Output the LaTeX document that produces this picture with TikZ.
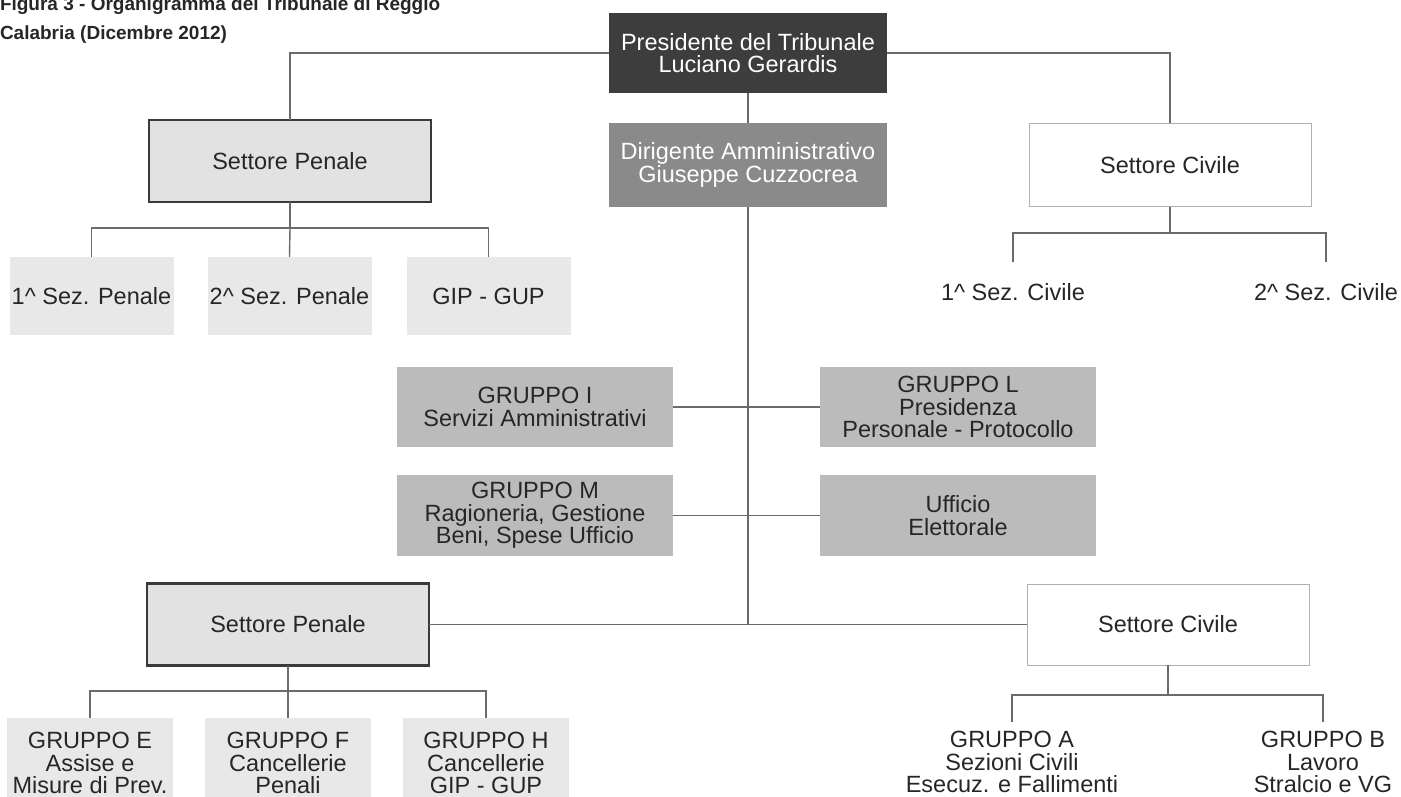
\documentclass[tikz,border=0pt]{standalone}
\usepackage{fontspec}
\setmainfont{Liberation Sans}
\usepackage{graphicx}
\definecolor{presfill}{HTML}{3D3D3D}
\definecolor{dirfill}{HTML}{8A8A8A}
\definecolor{grpfill}{HTML}{BBBBBB}
\definecolor{penfill}{HTML}{E2E2E2}
\definecolor{subfill}{HTML}{E8E8E8}
\definecolor{penborder}{HTML}{3A3A3A}
\definecolor{civborder}{HTML}{B0B0B0}
\definecolor{linec}{HTML}{6A6A6A}
\definecolor{txt}{HTML}{262626}
\begin{document}
\begin{tikzpicture}[x=1pt,y=-1pt,
  every node/.style={inner sep=0pt, outer sep=0pt, align=center, text=txt,
    font=\fontsize{23.5}{22.5}\selectfont},
  link/.style={draw=linec, line width=1.4pt},
  presbox/.style={fill=presfill, text=white, minimum width=278, minimum height=80},
  dirbox/.style={fill=dirfill, text=white, minimum width=278, minimum height=84},
  penbox/.style={fill=penfill, draw=penborder, line width=2.2pt, minimum width=282, minimum height=82},
  civbox/.style={fill=white, draw=civborder, line width=1pt, minimum width=282, minimum height=83},
  subbox/.style={fill=subfill, minimum width=164, minimum height=78},
  lowbox/.style={fill=subfill, minimum width=166, minimum height=90},
  grpbox/.style={fill=grpfill, minimum width=276, minimum height=80},
  plain/.style={minimum width=200},
  titletext/.style={anchor=base west, text=txt, font=\fontsize{19}{25}\selectfont\bfseries}
]
\useasboundingbox (0,0) rectangle (1401,797);

% title
\node[titletext] (t1) at (0,11) {Figura 3 - Organigramma del Tribunale di Reggio};
\node[titletext] (t2) at (0,40) {Calabria (Dicembre 2012)};

% top level
\node[presbox] (pres) at (748,53) {Presidente del Tribunale\\Luciano Gerardis};
\node[dirbox] (dir) at (748,165) {Dirigente Amministrativo\\Giuseppe Cuzzocrea};
\node[penbox] (sp1) at (290,161) {Settore Penale};
\node[civbox] (sc1) at (1170,165) {Settore Civile};

% level 3 (top)
\node[subbox] (p1) at (91.5,296) {1\textasciicircum{} Sez. Penale};
\node[subbox] (p2) at (289.5,296) {2\textasciicircum{} Sez. Penale};
\node[subbox] (p3) at (488.5,296) {GIP - GUP};
\node[plain, minimum height=60] (c1) at (1013,292) {1\textasciicircum{} Sez. Civile};
\node[plain, minimum height=60] (c2) at (1326,292) {2\textasciicircum{} Sez. Civile};

% middle groups
\node[grpbox] (gI) at (535,407) {GRUPPO I\\Servizi Amministrativi};
\node[grpbox] (gL) at (958,407) {GRUPPO L\\Presidenza\\Personale - Protocollo};
\node[grpbox, minimum height=81] (gM) at (535,515.5) {GRUPPO M\\Ragioneria, Gestione\\Beni, Spese Ufficio};
\node[grpbox, minimum height=81] (gU) at (958,515.5) {Ufficio\\Elettorale};

% bottom sectors
\node[penbox] (sp2) at (288,624.5) {Settore Penale};
\node[civbox, minimum height=81] (sc2) at (1168,624.5) {Settore Civile};

% bottom children
\node[lowbox] (ge) at (90,763) {GRUPPO E\\Assise e\\Misure di Prev.};
\node[lowbox] (gf) at (288,763) {GRUPPO F\\Cancellerie\\Penali};
\node[lowbox] (gh) at (486,763) {GRUPPO H\\Cancellerie\\GIP - GUP};
\node[plain, minimum height=80] (ga) at (1012,762) {GRUPPO A\\Sezioni Civili\\Esecuz. e Fallimenti};
\node[plain, minimum height=80] (gb) at (1323,762) {GRUPPO B\\Lavoro\\Stralcio e VG};

% bus points
\coordinate (b1) at (290,228);
\coordinate (b2) at (1170,233);
\coordinate (b3) at (288,691);
\coordinate (b4) at (1168,695);

% connectors
\draw[link] (pres.west) -| (sp1.north);
\draw[link] (pres.east) -| (sc1.north);
\draw[link] (pres.south) -- (dir.north);
\draw[link] (sp1.south) -- (b1);
\draw[link] (p1.north) |- (b1) -| (p3.north);
\draw[link] (b1) -- (p2.north);
\draw[link] (sc1.south) -- (b2);
\draw[link] (c1.north) |- (b2) -| (c2.north);
\draw[link] (dir.south) -- (dir.south |- sp2.east);
\draw[link] (gI.east) -- (gL.west);
\draw[link] (gM.east) -- (gU.west);
\draw[link] (sp2.east) -- (sc2.west);
\draw[link] (sp2.south) -- (b3);
\draw[link] (ge.north) |- (b3) -| (gh.north);
\draw[link] (b3) -- (gf.north);
\draw[link] (sc2.south) -- (b4);
\draw[link] (ga.north) |- (b4) -| (gb.north);
\end{tikzpicture}
\end{document}
